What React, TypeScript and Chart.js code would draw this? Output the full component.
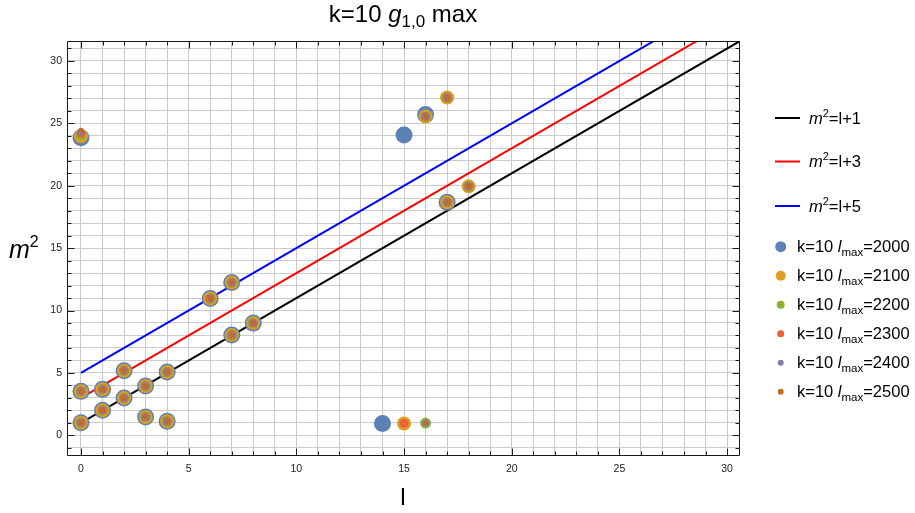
import React, { useEffect, useRef } from 'react';
import { Chart, registerables } from 'chart.js';

Chart.register(...registerables);

// ---------- data ----------
const lineL = [0, 31];
const lineM1 = [1, 32]; // m^2 = l + 1
const lineM3 = [3, 34]; // m^2 = l + 3
const lineM5 = [5, 36]; // m^2 = l + 5

const l2000 = [0, 0, 1, 1, 2, 2, 3, 3, 4, 4, 6, 7, 7, 8, 0, 14, 15, 16, 17];
const m2000 = [1.0, 3.52, 2.0, 3.68, 2.98, 5.17, 1.47, 3.95, 1.12, 5.07, 10.96, 8.03, 12.24, 8.99, 23.85, 0.95, 24.07, 25.7, 18.68];

const l2100 = [0, 0, 1, 1, 2, 2, 3, 3, 4, 4, 6, 7, 7, 8, 0, 15, 16, 17, 17, 18];
const m2100 = [1.0, 3.52, 2.0, 3.68, 2.98, 5.17, 1.47, 3.95, 1.12, 5.07, 10.96, 8.03, 12.24, 8.99, 23.97, 0.95, 25.55, 27.07, 18.68, 19.95];

const l2200 = [0, 0, 1, 1, 2, 2, 3, 3, 4, 4, 6, 7, 7, 8, 0, 16, 16, 17, 17, 18];
const m2200 = [1.0, 3.52, 2.0, 3.68, 2.98, 5.17, 1.47, 3.95, 1.12, 5.07, 10.96, 8.03, 12.24, 8.99, 24.08, 0.98, 25.55, 27.07, 18.68, 19.95];

const l2300 = [0, 0, 1, 1, 2, 2, 3, 3, 4, 4, 6, 7, 7, 8, 0, 15, 16, 17, 17, 18];
const m2300 = [1.0, 3.52, 2.0, 3.68, 2.98, 5.17, 1.47, 3.95, 1.12, 5.07, 10.96, 8.03, 12.24, 8.99, 24.2, 0.95, 25.55, 27.07, 18.68, 19.95];

const l2400 = [0, 0, 1, 1, 2, 2, 3, 3, 4, 4, 6, 7, 7, 8, 0, 16, 16, 17, 17, 18];
const m2400 = [1.0, 3.52, 2.0, 3.68, 2.98, 5.17, 1.47, 3.95, 1.12, 5.07, 10.96, 8.03, 12.24, 8.99, 24.32, 0.98, 25.55, 27.07, 18.68, 19.95];

const l2500 = [0, 0, 1, 1, 2, 2, 3, 3, 4, 4, 6, 7, 7, 8, 0, 16, 16, 17, 17, 18];
const m2500 = [1.0, 3.52, 2.0, 3.68, 2.98, 5.17, 1.47, 3.95, 1.12, 5.07, 10.96, 8.03, 12.24, 8.99, 24.45, 0.98, 25.55, 27.07, 18.68, 19.95];

const xTicks = [0, 5, 10, 15, 20, 25, 30];
const yTicks = [0, 5, 10, 15, 20, 25, 30];

const lmaxLabels = ['2000', '2100', '2200', '2300', '2400', '2500'];
const lineLabels = ['1', '3', '5'];

// ---------- styles ----------
const FONT = '"Liberation Sans", Arial, Helvetica, sans-serif';
const pointColors = ['#5E81B5', '#E19C24', '#8FB032', '#EB6235', '#8778B3', '#C56E1A'];
const pointRadii = [8.5, 7, 5.5, 4.5, 3.5, 2.5];
const legendRadii = [5.5, 5, 4, 3.5, 3, 3];
const lineColors = ['#000000', '#ff0000', '#0000ff'];

const zip = (xs: number[], ys: number[]) => xs.map((v, i) => ({ x: v, y: ys[i] }));

type Part = { t: string; size: number; italic?: boolean; dy?: number };

function rich(ctx: CanvasRenderingContext2D, parts: Part[], x: number, y: number, align: 'left' | 'center') {
  let total = 0;
  const widths = parts.map((p) => {
    ctx.font = `${p.italic ? 'italic ' : ''}${p.size}px ${FONT}`;
    const w = ctx.measureText(p.t).width;
    total += w;
    return w;
  });
  let cx = align === 'center' ? x - total / 2 : x;
  ctx.textAlign = 'left';
  ctx.textBaseline = 'alphabetic';
  parts.forEach((p, i) => {
    ctx.font = `${p.italic ? 'italic ' : ''}${p.size}px ${FONT}`;
    ctx.fillText(p.t, cx, y + (p.dy || 0));
    cx += widths[i];
  });
}

const decor = {
  id: 'decor',
  afterDraw(chart: any) {
    const { ctx, chartArea: a } = chart;
    const xs = chart.scales.x;
    const ys = chart.scales.y;
    ctx.save();
    ctx.strokeStyle = '#1a1a1a';
    ctx.lineWidth = 1;
    const L = Math.round(a.left) + 0.5;
    const R = Math.round(a.right) - 0.5;
    const T = Math.round(a.top) + 0.5;
    const B = Math.round(a.bottom) - 0.5;
    ctx.beginPath();
    ctx.rect(L, T, R - L, B - T);
    ctx.stroke();
    ctx.beginPath();
    for (let v = 0; v <= 30; v++) {
      const px = Math.round(xs.getPixelForValue(v)) + 0.5;
      const len = v % 5 === 0 ? 7 : 4;
      ctx.moveTo(px, B);
      ctx.lineTo(px, B - len);
      ctx.moveTo(px, T);
      ctx.lineTo(px, T + len);
    }
    for (let v = -1; v <= 31; v++) {
      const py = Math.round(ys.getPixelForValue(v)) + 0.5;
      const len = v % 5 === 0 ? 7 : 4;
      ctx.moveTo(L, py);
      ctx.lineTo(L + len, py);
      ctx.moveTo(R, py);
      ctx.lineTo(R - len, py);
    }
    ctx.stroke();

    ctx.fillStyle = '#000';
    // title
    rich(ctx, [
      { t: 'k=10 ', size: 24 },
      { t: 'g', size: 24, italic: true },
      { t: '1,0', size: 17, dy: 5 },
      { t: ' max', size: 24 },
    ], 403, 22, 'center');

    // axis labels
    rich(ctx, [{ t: 'l', size: 24 }], 403, 505, 'center');
    rich(ctx, [
      { t: 'm', size: 25, italic: true },
      { t: '2', size: 16, dy: -11 },
    ], 9, 258, 'left');

    // legend: lines
    const lineY = [118, 161.5, 206];
    lineLabels.forEach((lab, i) => {
      ctx.strokeStyle = lineColors[i];
      ctx.lineWidth = 2;
      ctx.beginPath();
      ctx.moveTo(775, lineY[i]);
      ctx.lineTo(800, lineY[i]);
      ctx.stroke();
      ctx.fillStyle = '#000';
      rich(ctx, [
        { t: 'm', size: 16.5, italic: true },
        { t: '2', size: 11, dy: -7 },
        { t: '=l+' + lab, size: 16.5 },
      ], 809, lineY[i] + 5.5, 'left');
    });

    // legend: points
    lmaxLabels.forEach((lab, i) => {
      const yy = 246.7 + 29 * i;
      ctx.fillStyle = pointColors[i];
      ctx.beginPath();
      ctx.arc(780.7, yy, legendRadii[i], 0, Math.PI * 2);
      ctx.fill();
      ctx.fillStyle = '#000';
      rich(ctx, [
        { t: 'k=10 ', size: 16.5 },
        { t: 'l', size: 16.5, italic: true },
        { t: 'max', size: 11.5, dy: 4 },
        { t: '=' + lab, size: 16.5 },
      ], 797, yy + 5.5, 'left');
    });
    ctx.restore();
  },
};

export default function App() {
  const ref = useRef<HTMLCanvasElement | null>(null);

  useEffect(() => {
    if (!ref.current) return;
    const pts = [zip(l2000, m2000), zip(l2100, m2100), zip(l2200, m2200), zip(l2300, m2300), zip(l2400, m2400), zip(l2500, m2500)];
    const lineData = [lineM1, lineM3, lineM5];
    const datasets: any[] = [];
    lineData.forEach((ms, i) => {
      datasets.push({
        label: 'm^2=l+' + lineLabels[i],
        data: zip(lineL, ms),
        showLine: true,
        borderColor: lineColors[i],
        backgroundColor: lineColors[i],
        borderWidth: 2,
        pointRadius: 0,
        order: 20,
      });
    });
    pts.forEach((d, i) => {
      datasets.push({
        label: 'k=10 lmax=' + lmaxLabels[i],
        data: d,
        backgroundColor: pointColors[i],
        borderWidth: 0,
        pointRadius: pointRadii[i],
        pointHoverRadius: pointRadii[i],
        order: 10 - i,
      });
    });

    const gridColor = '#cbcbcb';
    const chart = new Chart(ref.current, {
      type: 'scatter',
      data: { datasets },
      options: {
        animation: false,
        responsive: false,
        maintainAspectRatio: false,
        layout: { padding: { left: 0, top: 41, right: 175, bottom: 0 } },
        plugins: { legend: { display: false }, tooltip: { enabled: false }, title: { display: false } },
        scales: {
          x: {
            type: 'linear',
            min: -0.65,
            max: 30.6,
            afterBuildTicks: (s: any) => {
              const t = [];
              for (let v = 0; v <= 30; v++) t.push({ value: v });
              s.ticks = t;
            },
            afterFit: (s: any) => { s.height = 57; },
            border: { display: false },
            grid: { color: gridColor, lineWidth: 1, drawTicks: false },
            ticks: {
              autoSkip: false,
              maxRotation: 0,
              padding: 7,
              color: '#222',
              font: { family: FONT, size: 10.5 },
              callback: (v: any) => (xTicks.includes(Number(v)) ? String(v) : ''),
            },
          },
          y: {
            type: 'linear',
            min: -1.66,
            max: 31.6,
            afterBuildTicks: (s: any) => {
              const t = [];
              for (let v = -1; v <= 31; v++) t.push({ value: v });
              s.ticks = t;
            },
            afterFit: (s: any) => { s.width = 67; },
            border: { display: false },
            grid: { color: gridColor, lineWidth: 1, drawTicks: false },
            ticks: {
              autoSkip: false,
              padding: 5,
              color: '#222',
              font: { family: FONT, size: 10.5 },
              callback: (v: any) => (yTicks.includes(Number(v)) ? String(v) : ''),
            },
          },
        },
      },
      plugins: [decor],
    } as any);
    return () => chart.destroy();
  }, []);

  return (
    <div style={{ position: 'fixed', left: 0, top: 0, width: 915, height: 513, background: '#fff' }}>
      <canvas ref={ref} width={915} height={513} style={{ width: 915, height: 513, display: 'block' }} />
    </div>
  );
}
